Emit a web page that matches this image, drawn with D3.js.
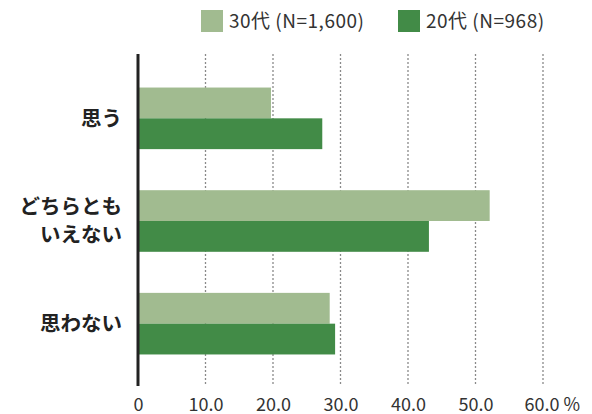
<!DOCTYPE html>
<html>
<head>
<meta charset="utf-8">
<script src="https://cdn.jsdelivr.net/npm/d3@7"></script>
<style>
  body { margin: 0; background: #fff; }
  text { font-family: "Noto Sans CJK JP", "Noto Sans", sans-serif; }
</style>
</head>
<body>
<svg id="chart"></svg>
<script>
// data
const categories = ["思う", "どちらとも\nいえない", "思わない"];
const series = ["30代 (N=1,600)", "20代 (N=968)"];
const values30 = [19.7, 52.1, 28.4];
const values20 = [27.3, 43.1, 29.2];
const ticks = [0, 10, 20, 30, 40, 50, 60];
const tickLabels = ["0", "10.0", "20.0", "30.0", "40.0", "50.0", "60.0 %"];

const colors = ["#a1bb90", "#428b47"];

const width = 592, height = 414;

const svg = d3.select("#chart")
    .attr("width", width)
    .attr("height", height);

// scales
const x = d3.scaleLinear()
    .domain([0, 60])
    .range([138, 543]);

const y = d3.scaleBand()
    .domain(categories)
    .range([67, 375])
    .paddingInner(0.4)
    .paddingOuter(0.2);

const inner = d3.scaleBand()
    .domain([0, 1])
    .range([0, y.bandwidth()]);

// gridlines
svg.append("g")
    .selectAll("line")
    .data(ticks.slice(1))
    .enter().append("line")
    .attr("x1", d => x(d))
    .attr("x2", d => x(d))
    .attr("y1", 54)
    .attr("y2", 386)
    .attr("stroke", "#8a8a8a")
    .attr("stroke-width", 1.3)
    .attr("stroke-dasharray", "2,2");

// bars
const rows = categories.map((c, i) => ({cat: c, vals: [values30[i], values20[i]]}));

const groups = svg.append("g")
    .selectAll("g")
    .data(rows)
    .enter().append("g")
    .attr("transform", d => `translate(0,${y(d.cat)})`);

groups.selectAll("rect")
    .data(d => d.vals)
    .enter().append("rect")
    .attr("x", x(0))
    .attr("y", (d, i) => inner(i))
    .attr("width", d => x(d) - x(0))
    .attr("height", inner.bandwidth())
    .attr("fill", (d, i) => colors[i]);

// axis line
svg.append("line")
    .attr("x1", x(0))
    .attr("x2", x(0))
    .attr("y1", 54)
    .attr("y2", 386)
    .attr("stroke", "#222")
    .attr("stroke-width", 3);

// x tick labels
const xAxis = d3.axisBottom(x)
    .tickValues(ticks)
    .tickSize(0)
    .tickPadding(0)
    .tickFormat((d, i) => tickLabels[i]);

const xg = svg.append("g")
    .attr("transform", "translate(0,397)")
    .call(xAxis);
xg.select(".domain").remove();
xg.selectAll("text")
    .attr("font-size", 18)
    .attr("fill", "#333")
    .attr("dy", "0.75em");
xg.selectAll(".tick").filter(d => d === 60).select("text")
    .attr("text-anchor", "start")
    .attr("x", -19);

// category labels
const labels = svg.append("g")
    .selectAll("text")
    .data(categories)
    .enter().append("text")
    .attr("x", 122)
    .attr("y", d => y(d) + y.bandwidth() / 2)
    .attr("text-anchor", "end")
    .attr("font-size", 20.5)
    .attr("font-weight", "bold")
    .attr("fill", "#222");

labels.each(function(d) {
    const lines = d.split("\n");
    const el = d3.select(this);
    lines.forEach((t, i) => {
        el.append("tspan")
            .attr("x", 122)
            .attr("dy", i === 0 ? `${0.35 - (lines.length - 1) * 0.68}em` : "1.36em")
            .text(t);
    });
});

// legend
const legendX = [201, 398];
const legend = svg.append("g")
    .selectAll("g")
    .data(series)
    .enter().append("g")
    .attr("transform", (d, i) => `translate(${legendX[i]},10)`);

legend.append("rect")
    .attr("width", 22)
    .attr("height", 22)
    .attr("fill", (d, i) => colors[i]);

legend.append("text")
    .attr("x", 28)
    .attr("y", 11)
    .attr("dy", "0.35em")
    .attr("font-size", 19)
    .attr("letter-spacing", 0.5)
    .attr("fill", "#333")
    .text(d => d);
</script>
</body>
</html>
